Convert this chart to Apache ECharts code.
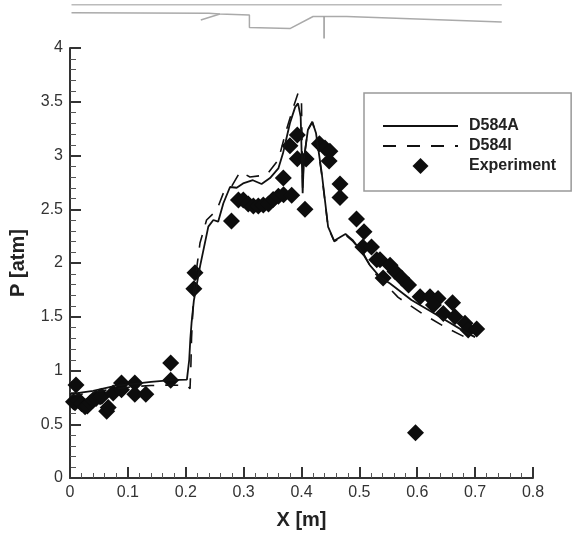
<!DOCTYPE html>
<html><head><meta charset="utf-8">
<style>html,body{margin:0;padding:0;background:#fff}#c{width:572px;height:536px}</style>
<script src="https://cdn.jsdelivr.net/npm/echarts@6/dist/echarts.min.js"></script>
</head><body><div id="c"></div>
<script>
const d584a = [[0,.78],[.04,.81],[.08,.86],[.11,.875],[.14,.895],[.175,.91],[.202,.915],[.206,1.1],[.208,1.3],[.21,1.44],[.214,1.65],[.2246,1.966],[.239,2.338],[.2477,2.40],[.256,2.384],[.265,2.556],[.2765,2.707],[.288,2.70],[.299,2.74],[.316,2.77],[.331,2.735],[.3456,2.79],[.36,2.88],[.368,3.02],[.38,3.30],[.389,3.45],[.394,3.485],[.3986,3.36],[.402,2.65],[.404,2.958],[.411,3.237],[.4187,3.314],[.425,3.21],[.435,2.835],[.446,2.335],[.4565,2.207],[.4665,2.24],[.476,2.27],[.489,2.21],[.504,2.105],[.518,1.98],[.5356,1.87],[.553,1.81],[.59,1.656],[.634,1.516],[.6855,1.35],[.70,1.31]];
const d584i = [[0,.76],[.04,.80],[.08,.83],[.11,.85],[.14,.86],[.175,.865],[.203,.86],[.2074,.83],[.209,1.07],[.21,1.3],[.214,1.75],[.2246,2.186],[.236,2.40],[.2535,2.49],[.265,2.65],[.28,2.72],[.294,2.85],[.311,2.80],[.34,2.82],[.36,2.96],[.374,3.24],[.386,3.45],[.394,3.58],[.40,3.49],[.402,2.7],[.404,2.958],[.411,3.24],[.4187,3.31],[.425,3.2],[.435,2.82],[.446,2.33],[.4565,2.2],[.4665,2.23],[.476,2.26],[.489,2.2],[.507,2.09],[.524,1.92],[.567,1.68],[.61,1.525],[.651,1.395],[.695,1.277]];
const experiment = [[.0104,.865],[.006,.71],[.0086,.70],[.015,.72],[.02,.69],[.026,.663],[.03,.67],[.035,.70],[.04,.725],[.045,.74],[.052,.756],[.055,.76],[.0634,.62],[.066,.655],[.0746,.79],[.089,.883],[.089,.82],[.112,.883],[.112,.78],[.131,.78],[.174,1.07],[.174,.91],[.216,1.91],[.214,1.76],[.279,2.39],[.291,2.585],[.2995,2.586],[.308,2.549],[.3168,2.53],[.3254,2.53],[.334,2.54],[.343,2.55],[.351,2.59],[.36,2.62],[.369,2.635],[.383,2.63],[.3686,2.79],[.38,3.09],[.3928,3.19],[.3928,2.97],[.408,2.967],[.406,2.50],[.431,3.11],[.4406,3.07],[.449,3.04],[.4477,2.95],[.4665,2.735],[.4665,2.61],[.495,2.41],[.508,2.29],[.506,2.15],[.521,2.15],[.53,2.03],[.5356,2.03],[.541,1.86],[.553,1.98],[.5616,1.92],[.573,1.86],[.585,1.795],[.597,.42],[.605,1.687],[.622,1.687],[.636,1.67],[.628,1.61],[.645,1.53],[.661,1.63],[.665,1.50],[.6825,1.44],[.688,1.377],[.7027,1.385]];
const schematicTop = [[.0026,4.8],[.746,4.8]];
const schematicWall = [[.0026,12.8],[.24,13.3],[.259,14],[.31,15],[.31,27.5],[.38,28.6],[.42,16.5],[.478,16.5],[.746,22]];
const schematicRamp = [[.226,20],[.259,14]];
const schematicProbe = [[.439,16.5],[.439,38.5]];
const legendNames = ['D584A','D584I','Experiment'];

const FONT = '"Liberation Sans", Arial, sans-serif';
const INK = '#111';
const TEXT = '#333';
const line = (name,data,type,width) => ({name,type:'line',data,xAxisIndex:0,yAxisIndex:0,showSymbol:false,symbol:'none',
  smooth:false,lineStyle:{color:INK,width,type},itemStyle:{color:INK},z:3,animation:false});
const geo = (data,color) => ({type:'line',data,xAxisIndex:1,yAxisIndex:1,symbol:'none',silent:true,
  lineStyle:{color,width:1.5},animation:false,z:1});

const axisCommon = {
  nameLocation:'middle',
  nameTextStyle:{fontFamily:FONT,fontWeight:'bold',fontSize:20,color:'#222'},
  axisLine:{lineStyle:{color:'#333',width:2}},
  axisTick:{inside:true,length:11,lineStyle:{color:'#333',width:2}},
  splitLine:{show:false},
  axisLabel:{margin:7,fontFamily:FONT,fontSize:16,color:TEXT}
};
const chart = echarts.init(document.getElementById('c'),null,{renderer:'canvas'});
chart.setOption({
  animation:false,backgroundColor:'#fff',
  grid:[{left:70,top:48,width:463,height:430,outerBoundsMode:'none'},{left:70,top:0,width:463,height:40,outerBoundsMode:'none'}],
  legend:{orient:'vertical',left:364,top:93,padding:[25,15,17,18],
    data:[{name:legendNames[0],itemStyle:{opacity:0}},
          {name:legendNames[1],itemStyle:{opacity:0}},
          {name:legendNames[2],icon:'path://M8 0L16 8L8 16L0 8Z'}],
    itemWidth:75,itemHeight:16,itemGap:4,borderColor:'#999',borderWidth:1.5,
    textStyle:{fontFamily:FONT,fontWeight:'bold',fontSize:16,color:'#222',padding:[0,0,0,6]}},
  xAxis:[{...axisCommon,type:'value',min:0,max:.8,interval:.1,name:'X [m]',nameGap:32,
      minorTick:{show:true,splitNumber:5,length:5,lineStyle:{color:'#555',width:1}}},
    {type:'value',gridIndex:1,min:0,max:.8,show:false}],
  yAxis:[{...axisCommon,type:'value',min:0,max:4,interval:.5,name:'P [atm]',nameGap:42,
      minorTick:{show:true,splitNumber:5,length:6,lineStyle:{color:'#555',width:1}}},
    {type:'value',gridIndex:1,min:0,max:40,inverse:true,show:false}],
  series:[
    line(legendNames[0],d584a,'solid',1.8),
    line(legendNames[1],d584i,[13,11],1.6),
    {name:legendNames[2],type:'scatter',data:experiment,symbol:'diamond',symbolSize:17,
      itemStyle:{color:'#0d0d0d',opacity:1},z:2,animation:false},
    geo(schematicTop,'#bbb'),geo(schematicWall,'#aaa'),geo(schematicRamp,'#aaa'),geo(schematicProbe,'#999')
  ]
});
</script></body></html>
